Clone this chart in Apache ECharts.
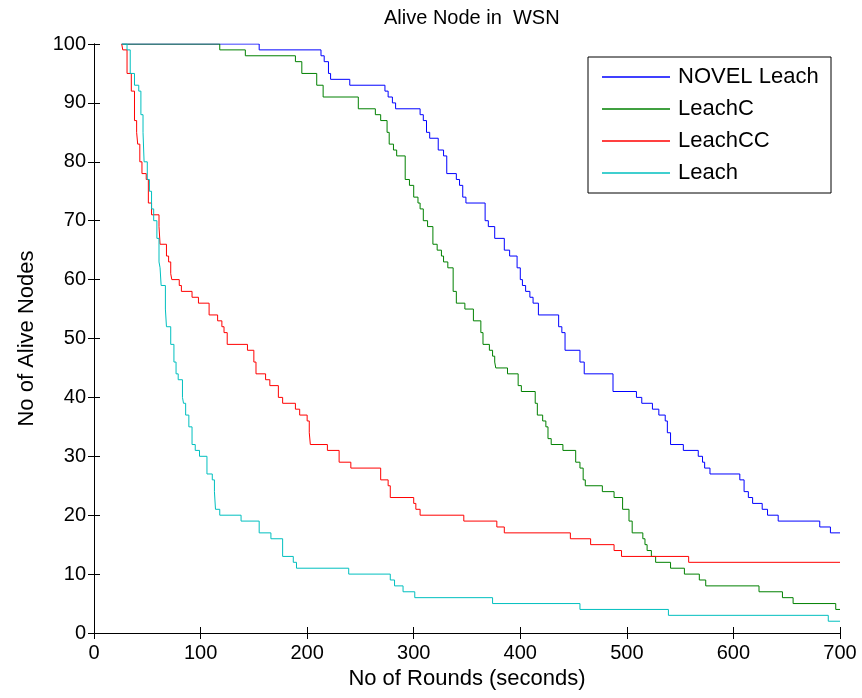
<!DOCTYPE html>
<html lang="en">
<head>
    <meta charset="UTF-8">
    <title>Alive Node in WSN</title>
    <script src="https://cdn.jsdelivr.net/npm/echarts@6/dist/echarts.min.js"></script>
    <style>
        html, body {
            margin: 0;
            padding: 0;
            background: #fff;
        }

        #chart {
            width: 862px;
            height: 698px;
        }
    </style>
</head>
<body>
<div id="chart"></div>
<script>
    // step points: round where the count changes, and the new count
    var novelX = [26, 155, 213, 216, 220, 222, 240, 273, 276, 280, 283, 306, 309, 312, 315, 323, 328, 331, 340, 343, 346, 349, 367, 370, 376, 385, 390, 397, 400, 402, 405, 409, 412, 417, 436, 439, 442, 456, 460, 487, 509, 514, 524, 530, 536, 538, 541, 553, 567, 571, 573, 578, 606, 610, 614, 618, 627, 632, 642, 681, 691, 700]
    var novelY = [100, 99, 98, 97, 95, 94, 93, 92, 91, 90, 89, 88, 87, 85, 84, 82, 81, 78, 77, 76, 74, 73, 70, 69, 67, 65, 64, 62, 60, 59, 58, 57, 56, 54, 52, 51, 48, 46, 44, 41, 40, 39, 38, 37, 36, 34, 32, 31, 30, 29, 28, 27, 26, 24, 23, 22, 21, 20, 19, 18, 17, 17]

    var leachCX = [26, 118, 142, 189, 195, 209, 215, 248, 264, 269, 275, 277, 281, 284, 292, 296, 300, 304, 306, 309, 313, 318, 322, 326, 328, 332, 337, 340, 348, 356, 363, 365, 371, 374, 376, 377, 388, 398, 401, 414, 416, 421, 424, 426, 429, 440, 452, 456, 459, 461, 477, 488, 496, 502, 505, 515, 517, 519, 523, 527, 541, 554, 568, 574, 624, 646, 656, 696, 700]
    var leachCY = [100, 99, 98, 97, 95, 93, 91, 89, 88, 87, 85, 83, 82, 81, 77, 76, 74, 73, 72, 70, 69, 66, 65, 64, 63, 62, 58, 56, 55, 53, 51, 49, 48, 47, 46, 45, 44, 42, 41, 39, 37, 36, 35, 33, 32, 31, 29, 28, 26, 25, 24, 23, 21, 19, 17, 16, 15, 14, 13, 12, 11, 10, 9, 8, 7, 6, 5, 4, 4]

    var leachCCX = [26, 27, 31, 35, 38, 40, 41, 43, 45, 49, 51, 54, 61, 62, 68, 70, 72, 73, 80, 82, 92, 98, 108, 116, 120, 122, 125, 144, 150, 152, 161, 165, 173, 177, 189, 193, 200, 202, 203, 219, 230, 241, 269, 276, 278, 300, 302, 306, 347, 378, 385, 447, 466, 488, 495, 558, 700]
    var leachCCY = [100, 99, 95, 92, 87, 85, 83, 80, 78, 77, 73, 71, 69, 66, 64, 63, 61, 60, 59, 58, 57, 56, 54, 53, 52, 51, 49, 48, 46, 44, 43, 42, 40, 39, 38, 37, 36, 34, 32, 31, 29, 28, 26, 25, 23, 22, 21, 20, 19, 18, 17, 16, 15, 14, 13, 12, 12]

    var leachX = [26, 31, 34, 38, 42, 44, 46, 47, 50, 52, 54, 56, 59, 61, 62, 63, 67, 68, 72, 75, 77, 79, 83, 84, 86, 89, 92, 95, 99, 106, 111, 113, 114, 118, 138, 155, 166, 177, 187, 190, 239, 278, 282, 290, 301, 374, 456, 539, 689, 700]
    var leachY = [100, 99, 95, 93, 92, 88, 85, 80, 77, 75, 72, 70, 67, 63, 62, 59, 55, 52, 49, 46, 44, 43, 40, 39, 37, 35, 32, 31, 30, 27, 26, 24, 21, 20, 19, 17, 16, 13, 12, 11, 10, 9, 8, 7, 6, 5, 4, 3, 2, 2]

    var seriesNames = ['NOVEL Leach', 'LeachC', 'LeachCC', 'Leach']
    var seriesColors = ['#0000ff', '#008000', '#ff0000', '#00bfbf']
    var xTicks = [0, 100, 200, 300, 400, 500, 600, 700]
    var yTicks = [0, 10, 20, 30, 40, 50, 60, 70, 80, 90, 100]

    var font = "'Liberation Sans', Arial, Helvetica, sans-serif"

    function pairs (xs, ys) {
        return xs.map((x, i) => [x, ys[i]])
    }

    var allData = [
        pairs(novelX, novelY),
        pairs(leachCX, leachCY),
        pairs(leachCCX, leachCCY),
        pairs(leachX, leachY)
    ]

    var chart = echarts.init(document.getElementById('chart'), null, {renderer: 'canvas'})

    var boxAxis = {
        axisLine: {show: true, lineStyle: {color: '#000', width: 1}},
        axisTick: {show: true, inside: true, length: 6, lineStyle: {color: '#000'}},
        splitLine: {show: false}
    }

    var option = {
        animation: false,
        backgroundColor: '#fff',
        title: {
            text: 'Alive Node in  WSN',
            left: 379,
            top: 3,
            textStyle: {fontFamily: font, fontSize: 20, fontWeight: 'normal', color: '#000'}
        },
        grid: {left: 94, right: 22, top: 44, bottom: 65, containLabel: false},
        legend: {
            data: seriesNames,
            orient: 'vertical',
            left: 588,
            top: 57,
            padding: [9, 10, 10, 14],
            itemWidth: 68,
            itemHeight: 1.5,
            itemGap: 10,
            icon: 'rect',
            textStyle: {fontFamily: font, fontSize: 22, color: '#000', lineHeight: 22, padding: [0, 0, 0, 3]}
        },
        graphic: [{
            type: 'rect',
            shape: {x: 588, y: 57, width: 243, height: 136},
            style: {fill: 'none', stroke: '#000', lineWidth: 1},
            z: 100
        }],
        xAxis: [Object.assign({
            type: 'value',
            min: xTicks[0],
            max: xTicks[xTicks.length - 1],
            interval: 100,
            position: 'bottom',
            name: 'No of Rounds (seconds)',
            nameLocation: 'middle',
            nameGap: 35,
            nameTextStyle: {fontFamily: font, fontSize: 22, color: '#000'},
            axisLabel: {fontFamily: font, fontSize: 20, color: '#000', margin: 10}
        }, boxAxis), Object.assign({
            type: 'value',
            min: xTicks[0],
            max: xTicks[xTicks.length - 1],
            interval: 100,
            position: 'top',
            axisLabel: {show: false}
        }, boxAxis)],
        yAxis: [Object.assign({
            type: 'value',
            min: yTicks[0],
            max: yTicks[yTicks.length - 1],
            interval: 10,
            position: 'left',
            name: 'No of Alive Nodes',
            nameLocation: 'middle',
            nameGap: 56,
            nameTextStyle: {fontFamily: font, fontSize: 22, color: '#000'},
            axisLabel: {fontFamily: font, fontSize: 20, color: '#000', margin: 8}
        }, boxAxis), Object.assign({
            type: 'value',
            min: yTicks[0],
            max: yTicks[yTicks.length - 1],
            interval: 10,
            position: 'right',
            axisLabel: {show: false}
        }, boxAxis)],
        series: allData.map((d, i) => ({
            name: seriesNames[i],
            type: 'line',
            step: 'end',
            showSymbol: false,
            symbol: 'none',
            color: seriesColors[i],
            lineStyle: {color: seriesColors[i], width: 1},
            data: d
        }))
    }
    chart.setOption(option)
</script>
</body>
</html>
